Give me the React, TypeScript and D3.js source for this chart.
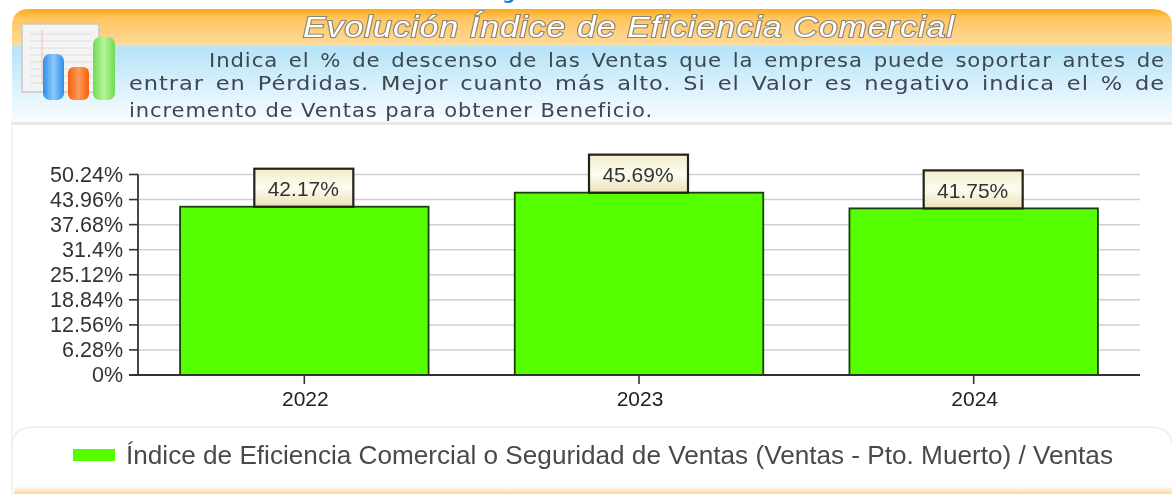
import React from "react";
import * as d3 from "d3";

const categories = ["2022", "2023", "2024"];
const values = [42.17, 45.69, 41.75];
const yTicks = [0, 6.28, 12.56, 18.84, 25.12, 31.4, 37.68, 43.96, 50.24];
const titleText = "Evolución Índice de Eficiencia Comercial";
const introLines = [
  "Indica el % de descenso de las Ventas que la empresa puede soportar antes de",
  "entrar en Pérdidas. Mejor cuanto más alto. Si el Valor es negativo indica el % de",
  "incremento de Ventas para obtener Beneficio.",
];
const legendText = "Índice de Eficiencia Comercial o Seguridad de Ventas (Ventas - Pto. Muerto) / Ventas";

const W = 1172, H = 494;
const x = d3.scaleBand<string>().domain(categories).range([138, 1140]).paddingInner(0.2575).paddingOuter(0.1257);
const y = d3.scaleLinear().domain([0, 50.24]).range([375, 174.5]);

const sans = "'Liberation Sans', Arial, sans-serif";
const body = "'DejaVu Sans', Verdana, sans-serif";

function Justified({ text, x0, x1, yy, ws }: { text: string; x0: number; x1: number; yy: number; ws: number }) {
  return (
    <text x={x0} y={yy} textLength={x1 - x0} lengthAdjust="spacingAndGlyphs" fontFamily={body} fontSize={19} letterSpacing={0.8} wordSpacing={ws} fill="#3d4650">{text}</text>
  );
}

export default function App() {
  const fmt = (v: number) => `${v}%`;
  return (
    <svg width={W} height={H} viewBox={`0 0 ${W} ${H}`} style={{ position: "fixed", left: 0, top: 0, display: "block", background: "#fff" }}>
      <defs>
        <linearGradient id="hdr" x1="0" y1="0" x2="0" y2="1">
          <stop offset="0" stopColor="#ffa812" />
          <stop offset="0.25" stopColor="#ffc560" />
          <stop offset="1" stopColor="#fedb9d" />
        </linearGradient>
        <linearGradient id="sub" x1="0" y1="0" x2="0" y2="1">
          <stop offset="0" stopColor="#b5e3f8" />
          <stop offset="1" stopColor="#fafdff" />
        </linearGradient>
        <linearGradient id="tip" x1="0" y1="0" x2="0" y2="1">
          <stop offset="0" stopColor="#f3edc8" />
          <stop offset="0.5" stopColor="#fdfcf0" />
          <stop offset="1" stopColor="#e9e2b8" />
        </linearGradient>
        <linearGradient id="bl" x1="0" y1="0" x2="1" y2="0">
          <stop offset="0" stopColor="#2d8fe8" /><stop offset="0.5" stopColor="#8cc8fb" /><stop offset="1" stopColor="#2d8fe8" />
        </linearGradient>
        <linearGradient id="or" x1="0" y1="0" x2="1" y2="0">
          <stop offset="0" stopColor="#f55f08" /><stop offset="0.5" stopColor="#ff9a5a" /><stop offset="1" stopColor="#f55f08" />
        </linearGradient>
        <linearGradient id="gr" x1="0" y1="0" x2="1" y2="0">
          <stop offset="0" stopColor="#6fdc4e" /><stop offset="0.5" stopColor="#b4f49a" /><stop offset="1" stopColor="#6fdc4e" />
        </linearGradient>
        <linearGradient id="foot" x1="0" y1="0" x2="0" y2="1">
          <stop offset="0" stopColor="#fff" /><stop offset="1" stopColor="#fdd99a" />
        </linearGradient>
        <filter id="b1"><feGaussianBlur stdDeviation="0.6" /></filter>
        <filter id="soft" x="0" y="0" width="100%" height="100%"><feGaussianBlur stdDeviation="0.5" /></filter>
      </defs>

      <g filter="url(#soft)">
        <rect x={0} y={0} width={W} height={H} fill="#fff" />
        <text x={509} y={-1} fontFamily={body} fontWeight="bold" fontSize={18} fill="#0f7fd0" textAnchor="middle">g</text>

        {/* page panel */}
        <rect x={12} y={120} width={1162} height={374} fill="#fff" stroke="#efefef" strokeWidth={1.5} />
        <path d="M12,46 V26 Q12,9 30,9 H1150 Q1172,9 1172,26 V46 Z" fill="url(#hdr)" />
        <rect x={12} y={46} width={1160} height={77} fill="url(#sub)" />
        <rect x={12} y={122} width={1160} height={3} fill="#e8e8e8" filter="url(#b1)" />

        {/* icon */}
        <g>
          <rect x={22} y={24} width={77} height={68} fill="#f4f4f4" stroke="#c9c9c9" strokeWidth={1.5} />
          {d3.range(34, 90, 7).map((ly) => <line key={ly} x1={30} x2={92} y1={ly} y2={ly} stroke="#dcdcdc" />)}
          <line x1={42} x2={42} y1={30} y2={85} stroke="#f0bcbc" />
          <rect x={43} y={54} width={21} height={46} rx={7} fill="url(#bl)" />
          <rect x={68} y={67} width={21} height={33} rx={6} fill="url(#or)" />
          <rect x={93} y={37} width={22} height={63} rx={7} fill="url(#gr)" />
        </g>

        {/* title */}
        <text x={303} y={37} fontFamily={sans} fontSize={30} letterSpacing={1} fontStyle="italic" fill="#fff" stroke="#8f8672" strokeWidth={2.2}
          paintOrder="stroke" textLength={652} lengthAdjust="spacingAndGlyphs">{titleText}</text>

        <Justified text={introLines[0]} x0={209} x1={1165} yy={66.5} ws={2.8} />
        <Justified text={introLines[1]} x0={129} x1={1165} yy={90} ws={3.2} />
        <Justified text={introLines[2]} x0={129} x1={653} yy={117} ws={0} />

        {/* gridlines */}
        {yTicks.slice(1).map((t) => (
          <line key={t} x1={138} x2={1140} y1={y(t)} y2={y(t)} stroke="#cfcfcf" strokeWidth={1.5} />
        ))}

        {/* bars */}
        {categories.map((c, i) => (
          <rect key={c} x={x(c)} y={y(values[i])} width={x.bandwidth()} height={375 - y(values[i])} fill="#55ff00" stroke="#1d3d10" strokeWidth={1.8} />
        ))}

        {/* axes */}
        <line x1={138} x2={138} y1={y(50.24)} y2={375} stroke="#333" strokeWidth={1.8} />
        <line x1={129} x2={1140} y1={375} y2={375} stroke="#333" strokeWidth={1.8} />
        {yTicks.map((t) => (
          <g key={t}>
            <line x1={129} x2={138} y1={y(t)} y2={y(t)} stroke="#333" strokeWidth={1.6} />
            <text x={123} y={y(t) + 7} textAnchor="end" fontFamily={sans} fontSize={21.5} fill="#333">{fmt(t)}</text>
          </g>
        ))}
        {categories.map((c) => {
          const cx = x(c)! + x.bandwidth() / 2;
          return (
            <g key={c}>
              <line x1={cx} x2={cx} y1={375} y2={384} stroke="#333" strokeWidth={1.6} />
              <text x={cx + 1} y={406} textAnchor="middle" fontFamily={sans} fontSize={21} fill="#222">{c}</text>
            </g>
          );
        })}

        {/* value boxes */}
        {categories.map((c, i) => {
          const cx = x(c)! + x.bandwidth() / 2;
          const top = y(values[i]);
          return (
            <g key={c}>
              <rect x={cx - 50} y={top - 38} width={99} height={38} fill="url(#tip)" stroke="#222218" strokeWidth={2.2} />
              <text x={cx - 1} y={top - 10.5} textAnchor="middle" fontFamily={sans} fontSize={21} fill="#333">{fmt(values[i])}</text>
            </g>
          );
        })}

        {/* legend panel */}
        <path d="M12,490 V446 Q12,427 34,427 H1150 Q1172,427 1172,446" fill="#fff" stroke="#eeeeee" strokeWidth={1.5} />
        <rect x={14} y={486} width={1158} height={8} fill="url(#foot)" />
        <rect x={73} y={449} width={42} height={12} fill="#55ff00" />
        <text x={126} y={464} fontFamily={sans} fontSize={25} fill="#4a4a4a" textLength={987} lengthAdjust="spacingAndGlyphs">{legendText}</text>
      </g>
    </svg>
  );
}
